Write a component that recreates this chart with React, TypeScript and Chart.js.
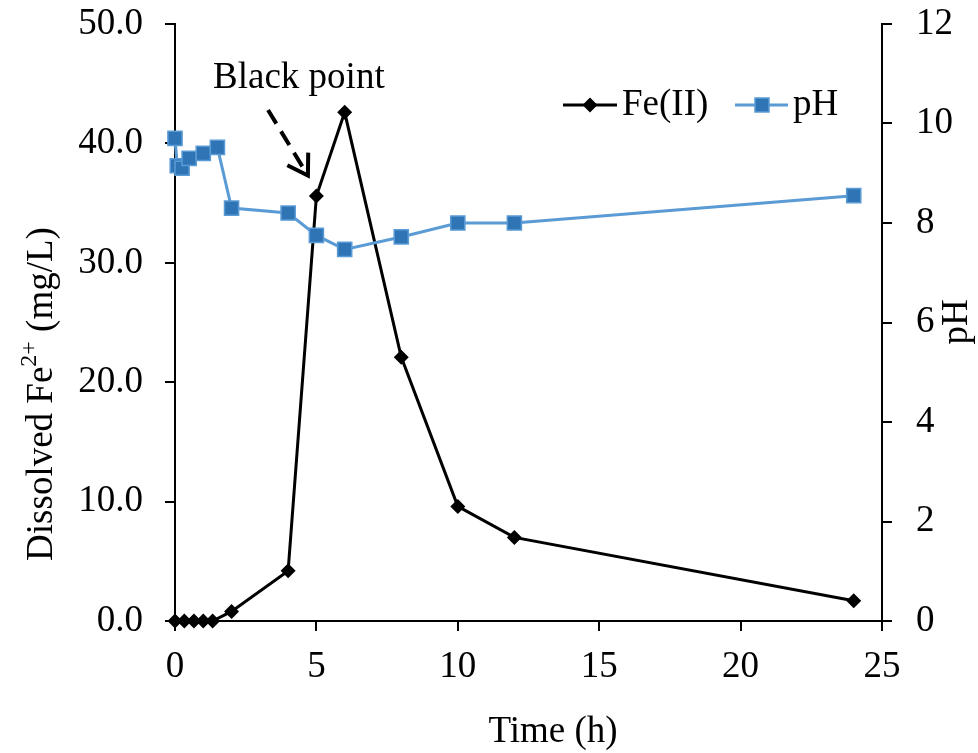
import React, { useEffect, useRef } from "react";
import { Chart, registerables } from "chart.js";

Chart.register(...registerables);

const timeFe = [0, 0.33, 0.67, 1, 1.33, 2, 4, 5, 6, 8, 10, 12, 24];
const feValues = [0, 0, 0, 0, 0, 0.8, 4.2, 35.6, 42.6, 22.1, 9.6, 7.0, 1.7];
const timePH = [0, 0.08, 0.25, 0.5, 1, 1.5, 2, 4, 5, 6, 8, 10, 12, 24];
const phValues = [9.7, 9.15, 9.1, 9.3, 9.4, 9.52, 8.3, 8.2, 7.75, 7.47, 7.72, 8.0, 8.0, 8.55];

const seriesNames = ["Fe(II)", "pH"];
const xTitle = "Time (h)";
const yRightTitle = "pH";
const annotationText = "Black point";

const FONT = '"Liberation Serif", "Times New Roman", serif';
const FS = 37;
const FE_COLOR = "#000000";
const PH_LINE = "#5B9BD5";
const PH_FILL = "#2F75B5";

const overlayPlugin = {
  id: "overlay",
  afterDraw(chart: any) {
    const ctx = chart.ctx as CanvasRenderingContext2D;
    const xs = chart.scales.x;
    const yl = chart.scales.y;
    ctx.save();
    ctx.fillStyle = "#000";
    ctx.font = `${FS}px ${FONT}`;

    // X title
    ctx.textAlign = "center";
    ctx.textBaseline = "middle";
    ctx.fillText(xTitle, 553, 732);

    // Right title
    ctx.save();
    ctx.translate(957, 322);
    ctx.rotate(-Math.PI / 2);
    ctx.fillText(yRightTitle, 0, 0);
    ctx.restore();

    // Left title with superscript
    ctx.save();
    ctx.translate(42, 394);
    ctx.rotate(-Math.PI / 2);
    const parts: [string, boolean][] = [
      ["Dissolved Fe", false],
      ["2+", true],
      [" (mg/L)", false],
    ];
    const big = `${FS}px ${FONT}`;
    const small = `24px ${FONT}`;
    let total = 0;
    parts.forEach(([t, sup]) => {
      ctx.font = sup ? small : big;
      total += ctx.measureText(t).width;
    });
    let cx = -total / 2;
    ctx.textAlign = "left";
    parts.forEach(([t, sup]) => {
      ctx.font = sup ? small : big;
      ctx.fillText(t, cx, sup ? -12 : 0);
      cx += ctx.measureText(t).width;
    });
    ctx.restore();

    // Annotation text
    ctx.font = `${FS}px ${FONT}`;
    ctx.textAlign = "center";
    ctx.textBaseline = "alphabetic";
    ctx.fillText(annotationText, xs.getPixelForValue(4.38), yl.getPixelForValue(44.6));

    // Dashed arrow
    const x1 = xs.getPixelForValue(3.29);
    const y1 = yl.getPixelForValue(42.8);
    const x2 = xs.getPixelForValue(4.7);
    const y2 = yl.getPixelForValue(37.3);
    ctx.strokeStyle = "#000";
    ctx.lineWidth = 4;
    ctx.setLineDash([16, 9]);
    ctx.beginPath();
    ctx.moveTo(x1, y1);
    ctx.lineTo(x2, y2);
    ctx.stroke();
    ctx.setLineDash([]);
    const ang = Math.atan2(y1 - y2, x1 - x2);
    const hl = 23;
    const spread = (32 * Math.PI) / 180;
    ctx.beginPath();
    ctx.moveTo(x2 + hl * Math.cos(ang + spread), y2 + hl * Math.sin(ang + spread));
    ctx.lineTo(x2, y2);
    ctx.lineTo(x2 + hl * Math.cos(ang - spread), y2 + hl * Math.sin(ang - spread));
    ctx.stroke();

    // Legend
    const ly = 105;
    ctx.lineWidth = 3;
    ctx.strokeStyle = FE_COLOR;
    ctx.beginPath();
    ctx.moveTo(563, ly);
    ctx.lineTo(617, ly);
    ctx.stroke();
    ctx.fillStyle = FE_COLOR;
    ctx.beginPath();
    ctx.moveTo(590 - 7.5, ly);
    ctx.lineTo(590, ly - 7.5);
    ctx.lineTo(590 + 7.5, ly);
    ctx.lineTo(590, ly + 7.5);
    ctx.closePath();
    ctx.fill();

    ctx.strokeStyle = PH_LINE;
    ctx.beginPath();
    ctx.moveTo(735, ly);
    ctx.lineTo(788, ly);
    ctx.stroke();
    ctx.fillStyle = PH_FILL;
    ctx.fillRect(755, ly - 7, 14, 14);
    ctx.lineWidth = 1.5;
    ctx.strokeRect(755, ly - 7, 14, 14);

    ctx.fillStyle = "#000";
    ctx.font = `${FS}px ${FONT}`;
    ctx.textAlign = "left";
    ctx.textBaseline = "middle";
    ctx.fillText(seriesNames[0], 622, ly);
    ctx.fillText(seriesNames[1], 793, ly);
    ctx.restore();
  },
};

export default function App() {
  const canvasRef = useRef<HTMLCanvasElement | null>(null);

  useEffect(() => {
    document.body.style.margin = "0";
    const canvas = canvasRef.current;
    if (!canvas) return;
    const tickFont = { family: FONT, size: FS };
    const gridOpts = {
      display: true,
      drawOnChartArea: false,
      drawTicks: true,
      tickLength: 10,
      color: "#000",
      lineWidth: 2,
    };
    const chart = new Chart(canvas, {
      type: "line",
      data: {
        datasets: [
          {
            label: seriesNames[0],
            data: timeFe.map((t, i) => ({ x: t, y: feValues[i] })),
            yAxisID: "y",
            borderColor: FE_COLOR,
            backgroundColor: FE_COLOR,
            borderWidth: 3,
            pointStyle: "rectRot",
            pointRadius: 7.5,
            pointBorderWidth: 0,
            pointBackgroundColor: FE_COLOR,
            tension: 0,
            clip: false,
            order: 1,
          },
          {
            label: seriesNames[1],
            data: timePH.map((t, i) => ({ x: t, y: phValues[i] })),
            yAxisID: "y1",
            borderColor: PH_LINE,
            backgroundColor: PH_FILL,
            borderWidth: 3,
            pointStyle: "rect",
            pointRadius: 10,
            pointBorderWidth: 1.5,
            pointBorderColor: PH_LINE,
            pointBackgroundColor: PH_FILL,
            tension: 0,
            clip: false,
            order: 0,
          },
        ],
      },
      options: {
        animation: false,
        responsive: true,
        maintainAspectRatio: false,
        layout: { padding: { top: 24, left: 0, right: 0, bottom: 0 } },
        plugins: { legend: { display: false }, tooltip: { enabled: false } },
        scales: {
          x: {
            type: "linear",
            min: 0,
            max: 25,
            ticks: { stepSize: 5, color: "#000", font: tickFont, padding: 14, maxRotation: 0 },
            grid: gridOpts,
            border: { display: true, color: "#000", width: 2 },
            afterFit: (s: any) => {
              s.height = 132;
              s.paddingLeft = 0;
              s.paddingRight = 0;
            },
          },
          y: {
            type: "linear",
            position: "left",
            min: 0,
            max: 50,
            ticks: {
              stepSize: 10,
              color: "#000",
              font: tickFont,
              padding: 22,
              callback: (v: any) => Number(v).toFixed(1),
            },
            grid: gridOpts,
            border: { display: true, color: "#000", width: 2 },
            afterFit: (s: any) => {
              s.width = 175;
              s.paddingTop = 0;
              s.paddingBottom = 0;
            },
          },
          y1: {
            type: "linear",
            position: "right",
            min: 0,
            max: 12,
            ticks: { stepSize: 2, color: "#000", font: tickFont, padding: 24 },
            grid: gridOpts,
            border: { display: true, color: "#000", width: 2 },
            afterFit: (s: any) => {
              s.width = 96;
              s.paddingTop = 0;
              s.paddingBottom = 0;
            },
          },
        },
      },
      plugins: [overlayPlugin],
    } as any);
    return () => chart.destroy();
  }, []);

  return (
    <div style={{ position: "absolute", left: 0, top: 0, width: 978, height: 753, background: "#fff" }}>
      <canvas ref={canvasRef} />
    </div>
  );
}
